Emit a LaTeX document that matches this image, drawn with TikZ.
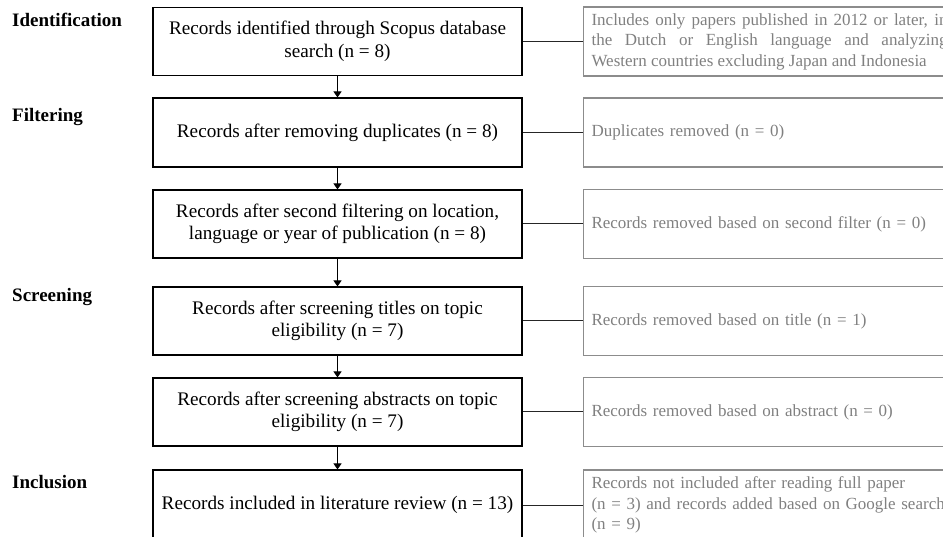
\documentclass[tikz,border=0pt]{standalone}
\usepackage{fontspec}
\setmainfont{Liberation Serif}
\usetikzlibrary{arrows.meta}

\definecolor{notetext}{gray}{0.50}
\definecolor{noteline}{gray}{0.55}

\tikzset{
  stagebox/.style={draw=black, line width=1.1pt, minimum width=369pt,
    minimum height=68pt, inner sep=0pt, align=center,
    font=\fontsize{19.2}{22.5}\selectfont},
  notebox/.style={draw=noteline, line width=1.1pt, anchor=west,
    text width=362pt, inner xsep=8pt, minimum height=69pt, align=left,
    text=notetext, font=\fontsize{17}{20.5}\selectfont},
  phase/.style={anchor=base west, inner sep=0pt,
    font=\fontsize{19}{22}\selectfont\bfseries},
  flow/.style={line width=1pt, -{Triangle[length=6pt,width=8pt]}},
  link/.style={line width=1pt, draw=black!85}
}

\begin{document}
\begin{tikzpicture}[x=1pt,y=-1pt]
\useasboundingbox (0,0) rectangle (943,537);
\clip (0,0) rectangle (943,537);

% phase labels
\node[phase] (pid)  at (12,27)  {Identification};
\node[phase] (pfil) at (12,122) {Filtering};
\node[phase] (pscr) at (12,302) {Screening};
\node[phase] (pinc) at (12,488) {Inclusion};

% main flow
\node[stagebox] (b1) at (337.5,41.5)  {Records identified through Scopus database\\search (n = 8)};
\node[stagebox, minimum height=69pt] (b2) at (337.5,132.5) {Records after removing duplicates (n = 8)};
\node[stagebox] (b3) at (337.5,224)   {Records after second filtering on location,\\language or year of publication (n = 8)};
\node[stagebox] (b4) at (337.5,321)   {Records after screening titles on topic\\eligibility (n = 7)};
\node[stagebox] (b5) at (337.5,412)   {Records after screening abstracts on topic\\eligibility (n = 7)};
\node[stagebox, minimum height=70pt] (b6) at (337.5,505) {Records included in literature review (n = 13)};

% side notes
\node[notebox, text width=356pt, align=justify] (r1) at (583,41.5) {Includes only papers published in 2012 or later, in\linebreak the Dutch or English language and analyzing\linebreak Western countries excluding Japan and Indonesia};
\node[notebox] (r2) at (583,132.5) {Duplicates removed (n = 0)};
\node[notebox] (r3) at (583,224)   {Records removed based on second filter (n = 0)};
\node[notebox] (r4) at (583,321)   {Records removed based on title (n = 1)};
\node[notebox] (r5) at (583,412)   {Records removed based on abstract (n = 0)};
\node[notebox, text width=380pt, minimum height=70pt] (r6) at (583,505) {Records not included after reading full paper\\(n = 3) and records added based on Google search\\(n = 9)};

% vertical arrows
\draw[flow] (b1) -- (b2);
\draw[flow] (b2) -- (b3);
\draw[flow] (b3) -- (b4);
\draw[flow] (b4) -- (b5);
\draw[flow] (b5) -- (b6);

% side links
\foreach \i in {1,...,6} { \draw[link] (b\i.east) -- (r\i.west); }
\end{tikzpicture}
\end{document}
